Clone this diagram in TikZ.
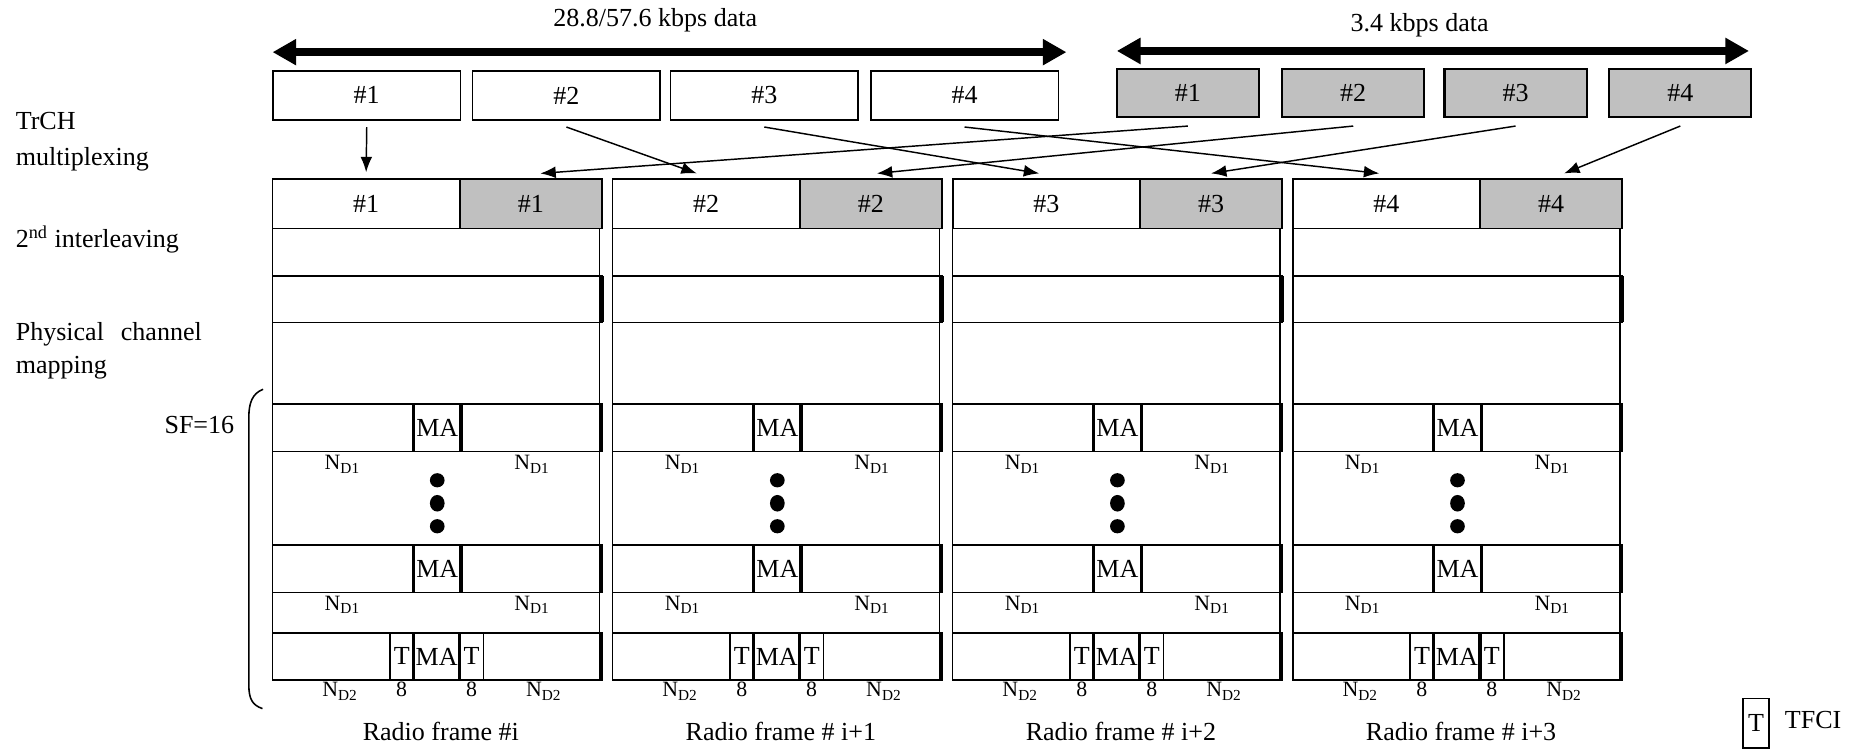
\documentclass[tikz,border=0pt]{standalone}
\usepackage{fontspec}
\setmainfont{Liberation Serif}
\usepackage{tikz}
\usetikzlibrary{arrows.meta,positioning}
\definecolor{fgray}{HTML}{C0C0C0}
\tikzset{
  databox/.style  = {draw, line width=0.8pt, minimum width=3.17cm,
                     minimum height=0.82cm, inner sep=0pt},
  voicebox/.style = {databox, fill=fgray, line width=1pt, minimum width=2.4cm},
  cellw/.style    = {draw, line width=0.75pt, minimum width=3.16cm,
                     minimum height=0.84cm, inner sep=0pt},
  cellg/.style    = {cellw, fill=fgray, minimum width=2.4cm},
  rate/.style     = {line width=0.14cm,
                     {Triangle[length=0.4cm,width=0.42cm]}-{Triangle[length=0.4cm,width=0.42cm]}},
  conn/.style     = {-{Latex[length=0.26cm,width=0.2cm]}, line width=0.7pt},
  frm/.style      = {line width=0.75pt},
  slotline/.style = {line width=1.5pt},
  lbl/.style      = {font=\fontsize{10.5pt}{12pt}\selectfont, anchor=base, inner sep=0pt},
  txt/.style      = {anchor=base west, inner sep=0pt},
}

\begin{document}
\begin{tikzpicture}[x=0.02cm,y=-0.02cm,font=\fontsize{12.5pt}{15pt}\selectfont]
\useasboundingbox (0,0) rectangle (1568,633);

% transport channel blocks
\node[databox] (d1) at (309.5,80.5) {\#1};
\node[databox] (d2) at (478,80.5) {\#2};
\node[databox] (d3) at (645,80.5) {\#3};
\node[databox] (d4) at (814,80.5) {\#4};
\node[voicebox] (v1) at (1002.5,78.5) {\#1};
\node[voicebox] (v2) at (1142,78.5) {\#2};
\node[voicebox] (v3) at (1279,78.5) {\#3};
\node[voicebox] (v4) at (1418,78.5) {\#4};

\coordinate (hl) at (230,44);
\coordinate (hr) at (900,44);
\coordinate (vl) at (942.5,43);
\coordinate (vr) at (1476,43);
\draw[rate] (hl) -- (hr);
\draw[rate] (vl) -- (vr);
\node[anchor=base, inner sep=0pt] (hdata) at (553,22.5) {28.8/57.6 kbps data};
\node[anchor=base, inner sep=0pt] (vdata) at (1198,26.7) {3.4 kbps data};

% step names
\node[txt] (ltr)  at (13,109) {TrCH};
\node[txt] (lmux) at (13,140) {multiplexing};
\node[txt] (lint) at (13,209) {2\textsuperscript{nd} interleaving};
\node[txt] (lphy) at (13,287) {\makebox[3.14cm][s]{Physical channel}};
\node[txt] (lmap) at (13,315.6) {mapping};
\node[anchor=base east, inner sep=0pt] (lsf) at (198,365.6) {SF=16};
\draw[frm] (222,328.5) .. controls (213,332) and (210,340) .. (210,352)
  -- (210,578) .. controls (210,590) and (213,595) .. (221.5,598);

% radio frames
\foreach \n/\x/\f in {1/230/{\#i},2/517/{\# i+1},3/804/{\# i+2},4/1091/{\# i+3}} {
  \node[cellw] (fa\n) at (\x+79,172) {\#\n};
  \node[cellg] (fb\n) at (\x+218,172) {\#\n};
  \draw[frm] (\x,193) -- (\x,574) (\x+276,193) -- (\x+276,574);
  \draw[frm] (\x,233) rectangle (\x+278,272);
  \draw[slotline] (\x+278,233) -- (\x+278,272);
  \foreach \y in {341,460,534} {
    \draw[frm] (\x,\y) rectangle (\x+278,\y+40);
    \draw[slotline] (\x+277.5,\y) -- (\x+277.5,\y+40);
  }
  \foreach \y in {341,460} {
    \draw[slotline] (\x+119,\y) -- ++(0,40) (\x+159,\y) -- ++(0,40);
    \node (ma\n\y) at (\x+139,\y+20) {MA};
  }
  \draw[frm] (\x+99,534) rectangle (\x+119,574) (\x+158,534) rectangle (\x+178,574);
  \draw[slotline] (\x+119,534) -- ++(0,40) (\x+158,534) -- ++(0,40);
  \node (ta\n) at (\x+109,554) {T};
  \node (mc\n) at (\x+138.5,554) {MA};
  \node (tb\n) at (\x+168,554) {T};
  \node[lbl] (na\n) at (\x+59,396.6) {N\textsubscript{D1}};
  \node[lbl] (nb\n) at (\x+219,396.6) {N\textsubscript{D1}};
  \node[lbl] (nc\n) at (\x+59,514.8) {N\textsubscript{D1}};
  \node[lbl] (nd\n) at (\x+219,514.8) {N\textsubscript{D1}};
  \node[lbl] (ne\n) at (\x+57,588) {N\textsubscript{D2}};
  \node[lbl] (ea\n) at (\x+109,588) {8};
  \node[lbl] (eb\n) at (\x+168,588) {8};
  \node[lbl] (nf\n) at (\x+229,588) {N\textsubscript{D2}};
  \fill (\x+139,405.3) ellipse [x radius=0.124cm, y radius=0.12cm];
  \fill (\x+139,424.7) ellipse [x radius=0.124cm, y radius=0.14cm];
  \fill (\x+139,444.1) ellipse [x radius=0.124cm, y radius=0.12cm];
  \node[anchor=base, inner sep=0pt] (rf\n) at (\x+142,625) {Radio frame \f};
}

% multiplexing arrows
\draw[conn] ([yshift=-0.11cm]d1.south) -- ([yshift=0.1cm]fa1.north);
\draw[conn] ([yshift=-0.13cm]v1.south) -- ([xshift=0.16cm,yshift=0.08cm]fb1.north);
\draw[conn] ([yshift=-0.11cm]d2.south) -- ([xshift=-0.16cm,yshift=0.08cm]fa2.north);
\draw[conn] ([yshift=-0.13cm]v2.south) -- ([xshift=0.1cm,yshift=0.08cm]fb2.north);
\draw[conn] ([yshift=-0.11cm]d3.south) -- ([xshift=-0.12cm,yshift=0.08cm]fa3.north);
\draw[conn] ([yshift=-0.13cm]v3.south) -- ([yshift=0.08cm]fb3.north);
\draw[conn] ([yshift=-0.11cm]d4.south) -- ([xshift=-0.12cm,yshift=0.08cm]fa4.north);
\draw[conn] ([yshift=-0.13cm]v4.south) -- ([xshift=0.22cm,yshift=0.08cm]fb4.north);

% legend
\node[draw, frm, minimum width=0.44cm, minimum height=0.84cm, inner sep=0pt] (tkey) at (1482,610.4) {T};
\node[txt] (tkeylbl) at (1506,614.5) {TFCI};
\end{tikzpicture}
\end{document}
